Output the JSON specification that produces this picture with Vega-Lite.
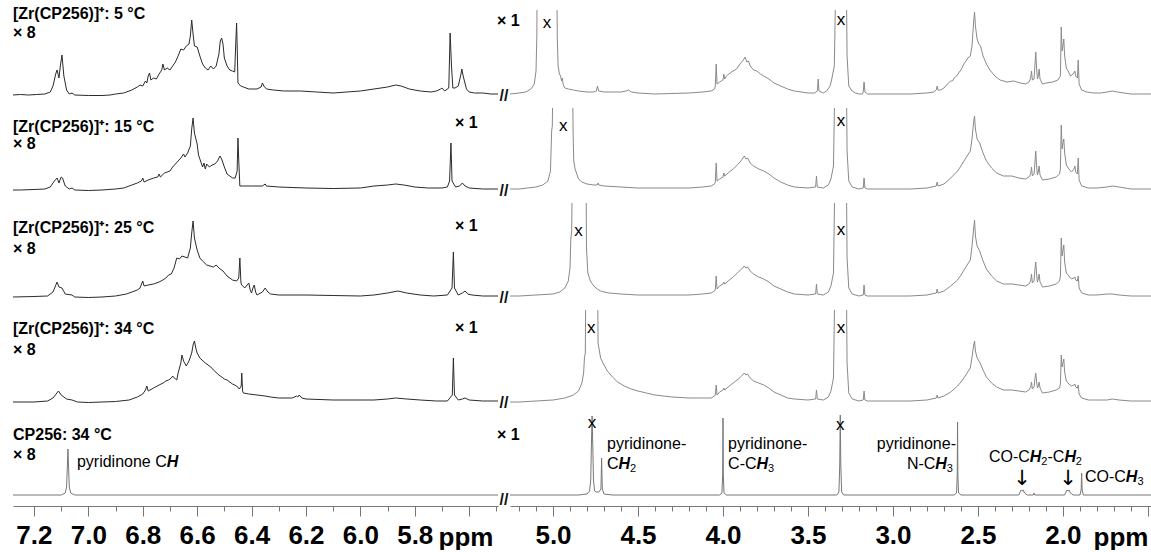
{
"$schema":"https://vega.github.io/schema/vega-lite/v6.json",
"padding":{"left":13,"top":6,"right":0,"bottom":0},
"config":{"view":{"stroke":null},"font":"Liberation Sans"},
"datasets":{
"L1":[{"p":7.277,"v":1},{"p":7.25,"v":1.5},{"p":7.22,"v":1},{"p":7.19,"v":1.5},{"p":7.16,"v":2},{"p":7.14,"v":4},{"p":7.13,"v":10},{"p":7.12,"v":22},{"p":7.115,"v":26},{"p":7.108,"v":18},{"p":7.103,"v":30},{"p":7.097,"v":41},{"p":7.09,"v":20},{"p":7.08,"v":6},{"p":7.07,"v":2},{"p":7.06,"v":3},{"p":7.05,"v":1},{"p":7.0,"v":0.5},{"p":6.95,"v":0.5},{"p":6.92,"v":1},{"p":6.9,"v":2},{"p":6.87,"v":3},{"p":6.84,"v":6},{"p":6.82,"v":9},{"p":6.81,"v":11},{"p":6.8,"v":10},{"p":6.79,"v":15},{"p":6.785,"v":13},{"p":6.78,"v":20},{"p":6.775,"v":23},{"p":6.77,"v":16},{"p":6.76,"v":18},{"p":6.75,"v":17},{"p":6.74,"v":22},{"p":6.73,"v":26},{"p":6.726,"v":32},{"p":6.72,"v":26},{"p":6.71,"v":28},{"p":6.7,"v":26},{"p":6.69,"v":30},{"p":6.68,"v":34},{"p":6.67,"v":40},{"p":6.66,"v":47},{"p":6.65,"v":46},{"p":6.64,"v":50},{"p":6.63,"v":52},{"p":6.625,"v":60},{"p":6.62,"v":76},{"p":6.615,"v":62},{"p":6.61,"v":50},{"p":6.6,"v":49},{"p":6.59,"v":40},{"p":6.58,"v":32},{"p":6.57,"v":28},{"p":6.56,"v":26},{"p":6.55,"v":30},{"p":6.54,"v":27},{"p":6.53,"v":30},{"p":6.52,"v":42},{"p":6.515,"v":55},{"p":6.51,"v":58},{"p":6.505,"v":52},{"p":6.5,"v":38},{"p":6.49,"v":30},{"p":6.48,"v":26},{"p":6.47,"v":25},{"p":6.462,"v":24},{"p":6.457,"v":60},{"p":6.455,"v":73},{"p":6.452,"v":40},{"p":6.45,"v":13},{"p":6.44,"v":10},{"p":6.43,"v":9},{"p":6.41,"v":7},{"p":6.38,"v":7},{"p":6.365,"v":9},{"p":6.36,"v":13},{"p":6.355,"v":10},{"p":6.345,"v":7},{"p":6.32,"v":6},{"p":6.28,"v":5},{"p":6.22,"v":5},{"p":6.16,"v":4},{"p":6.1,"v":3},{"p":6.05,"v":4},{"p":6.0,"v":5},{"p":5.95,"v":7},{"p":5.9,"v":9},{"p":5.87,"v":11},{"p":5.85,"v":10},{"p":5.82,"v":7},{"p":5.78,"v":5},{"p":5.74,"v":4},{"p":5.72,"v":5},{"p":5.705,"v":7},{"p":5.7,"v":8},{"p":5.69,"v":5},{"p":5.675,"v":8},{"p":5.67,"v":63},{"p":5.665,"v":30},{"p":5.66,"v":8},{"p":5.652,"v":8},{"p":5.64,"v":10},{"p":5.63,"v":22},{"p":5.627,"v":27},{"p":5.622,"v":20},{"p":5.61,"v":7},{"p":5.6,"v":4},{"p":5.58,"v":3},{"p":5.55,"v":3},{"p":5.52,"v":2},{"p":5.494,"v":2}],
"L2":[{"p":7.277,"v":1},{"p":7.25,"v":1},{"p":7.2,"v":1.5},{"p":7.16,"v":2},{"p":7.14,"v":4},{"p":7.125,"v":10},{"p":7.115,"v":13},{"p":7.108,"v":8},{"p":7.1,"v":14},{"p":7.095,"v":13},{"p":7.085,"v":5},{"p":7.07,"v":2},{"p":7.06,"v":3},{"p":7.05,"v":1},{"p":7.0,"v":0.5},{"p":6.95,"v":1},{"p":6.9,"v":2},{"p":6.87,"v":3},{"p":6.84,"v":6},{"p":6.82,"v":8},{"p":6.805,"v":10},{"p":6.8,"v":13},{"p":6.795,"v":9},{"p":6.78,"v":11},{"p":6.76,"v":13},{"p":6.745,"v":14},{"p":6.74,"v":17},{"p":6.735,"v":14},{"p":6.72,"v":18},{"p":6.7,"v":20},{"p":6.69,"v":24},{"p":6.68,"v":27},{"p":6.67,"v":30},{"p":6.66,"v":33},{"p":6.65,"v":37},{"p":6.645,"v":34},{"p":6.635,"v":38},{"p":6.625,"v":45},{"p":6.62,"v":62},{"p":6.615,"v":73},{"p":6.61,"v":58},{"p":6.6,"v":47},{"p":6.595,"v":36},{"p":6.59,"v":32},{"p":6.58,"v":24},{"p":6.575,"v":28},{"p":6.57,"v":22},{"p":6.565,"v":27},{"p":6.555,"v":24},{"p":6.545,"v":26},{"p":6.535,"v":27},{"p":6.525,"v":30},{"p":6.516,"v":35},{"p":6.51,"v":32},{"p":6.5,"v":24},{"p":6.49,"v":17},{"p":6.47,"v":13},{"p":6.46,"v":13},{"p":6.453,"v":20},{"p":6.45,"v":53},{"p":6.447,"v":30},{"p":6.443,"v":5},{"p":6.43,"v":5},{"p":6.4,"v":5},{"p":6.36,"v":5},{"p":6.35,"v":7},{"p":6.345,"v":5},{"p":6.3,"v":4},{"p":6.2,"v":3},{"p":6.1,"v":2.5},{"p":6.0,"v":3},{"p":5.95,"v":5},{"p":5.9,"v":6},{"p":5.87,"v":7},{"p":5.84,"v":6},{"p":5.8,"v":4},{"p":5.75,"v":3},{"p":5.7,"v":3},{"p":5.68,"v":4},{"p":5.672,"v":10},{"p":5.667,"v":48},{"p":5.663,"v":10},{"p":5.65,"v":4},{"p":5.635,"v":5},{"p":5.625,"v":8},{"p":5.615,"v":5},{"p":5.6,"v":3},{"p":5.55,"v":2},{"p":5.494,"v":2}],
"L3":[{"p":7.277,"v":1},{"p":7.2,"v":1.5},{"p":7.15,"v":2},{"p":7.13,"v":6},{"p":7.115,"v":16},{"p":7.108,"v":11},{"p":7.097,"v":10},{"p":7.085,"v":4},{"p":7.06,"v":3},{"p":7.05,"v":1},{"p":7.0,"v":0.5},{"p":6.95,"v":1},{"p":6.9,"v":2},{"p":6.86,"v":4},{"p":6.82,"v":8},{"p":6.81,"v":10},{"p":6.8,"v":17},{"p":6.795,"v":12},{"p":6.78,"v":13},{"p":6.76,"v":14},{"p":6.74,"v":16},{"p":6.726,"v":18},{"p":6.715,"v":20},{"p":6.705,"v":23},{"p":6.695,"v":24},{"p":6.685,"v":30},{"p":6.675,"v":40},{"p":6.665,"v":39},{"p":6.656,"v":42},{"p":6.645,"v":41},{"p":6.635,"v":40},{"p":6.625,"v":50},{"p":6.62,"v":65},{"p":6.615,"v":77},{"p":6.61,"v":60},{"p":6.6,"v":48},{"p":6.59,"v":40},{"p":6.58,"v":37},{"p":6.565,"v":33},{"p":6.553,"v":32},{"p":6.54,"v":31},{"p":6.53,"v":33},{"p":6.52,"v":30},{"p":6.505,"v":27},{"p":6.49,"v":22},{"p":6.47,"v":18},{"p":6.455,"v":17},{"p":6.447,"v":20},{"p":6.443,"v":40},{"p":6.439,"v":15},{"p":6.436,"v":13},{"p":6.425,"v":10},{"p":6.41,"v":15},{"p":6.405,"v":8},{"p":6.4,"v":5},{"p":6.395,"v":10},{"p":6.39,"v":13},{"p":6.385,"v":6},{"p":6.38,"v":3},{"p":6.36,"v":6},{"p":6.35,"v":10},{"p":6.34,"v":6},{"p":6.33,"v":4},{"p":6.3,"v":3},{"p":6.2,"v":3},{"p":6.1,"v":2.5},{"p":6.0,"v":2},{"p":5.95,"v":3},{"p":5.9,"v":5},{"p":5.862,"v":7},{"p":5.83,"v":5},{"p":5.78,"v":3},{"p":5.73,"v":2},{"p":5.68,"v":3},{"p":5.663,"v":10},{"p":5.658,"v":46},{"p":5.654,"v":10},{"p":5.64,"v":3},{"p":5.625,"v":5},{"p":5.615,"v":7},{"p":5.605,"v":4},{"p":5.59,"v":3},{"p":5.55,"v":2},{"p":5.494,"v":2}],
"L4":[{"p":7.277,"v":1},{"p":7.2,"v":1},{"p":7.15,"v":2},{"p":7.13,"v":5},{"p":7.11,"v":12},{"p":7.1,"v":8},{"p":7.09,"v":6},{"p":7.08,"v":4},{"p":7.06,"v":3},{"p":7.04,"v":1},{"p":7.0,"v":0.5},{"p":6.95,"v":1},{"p":6.9,"v":1.5},{"p":6.85,"v":3},{"p":6.82,"v":6},{"p":6.8,"v":9},{"p":6.79,"v":13},{"p":6.785,"v":17},{"p":6.78,"v":12},{"p":6.76,"v":15},{"p":6.74,"v":18},{"p":6.725,"v":20},{"p":6.715,"v":22},{"p":6.705,"v":23},{"p":6.695,"v":25},{"p":6.69,"v":27},{"p":6.68,"v":24},{"p":6.675,"v":23},{"p":6.67,"v":30},{"p":6.66,"v":40},{"p":6.656,"v":48},{"p":6.65,"v":42},{"p":6.64,"v":37},{"p":6.63,"v":42},{"p":6.62,"v":50},{"p":6.615,"v":58},{"p":6.61,"v":62},{"p":6.605,"v":55},{"p":6.6,"v":50},{"p":6.59,"v":45},{"p":6.57,"v":40},{"p":6.55,"v":36},{"p":6.54,"v":33},{"p":6.52,"v":28},{"p":6.5,"v":24},{"p":6.49,"v":23},{"p":6.47,"v":19},{"p":6.455,"v":17},{"p":6.445,"v":14},{"p":6.438,"v":17},{"p":6.436,"v":30},{"p":6.433,"v":12},{"p":6.43,"v":10},{"p":6.41,"v":9},{"p":6.38,"v":8},{"p":6.35,"v":7},{"p":6.33,"v":6},{"p":6.3,"v":5},{"p":6.25,"v":5},{"p":6.235,"v":7},{"p":6.23,"v":6},{"p":6.225,"v":8},{"p":6.215,"v":5},{"p":6.2,"v":4},{"p":6.1,"v":3},{"p":6.0,"v":3},{"p":5.95,"v":3},{"p":5.9,"v":4},{"p":5.87,"v":5},{"p":5.83,"v":4},{"p":5.78,"v":3},{"p":5.72,"v":2},{"p":5.68,"v":2},{"p":5.662,"v":8},{"p":5.658,"v":45},{"p":5.654,"v":8},{"p":5.64,"v":3},{"p":5.625,"v":4},{"p":5.615,"v":5},{"p":5.6,"v":3},{"p":5.55,"v":2},{"p":5.494,"v":2}],
"L5":[{"p":7.277,"v":0},{"p":7.1,"v":0},{"p":7.085,"v":2},{"p":7.08,"v":8},{"p":7.077,"v":30},{"p":7.075,"v":46},{"p":7.073,"v":30},{"p":7.07,"v":8},{"p":7.065,"v":2},{"p":7.05,"v":0},{"p":5.494,"v":0}],
"R1":[{"p":5.253,"v":2},{"p":5.2,"v":3},{"p":5.16,"v":4},{"p":5.13,"v":7},{"p":5.11,"v":12},{"p":5.1,"v":25},{"p":5.095,"v":60},{"p":5.093,"v":130},{"p":5.035,"v":140},{"p":4.978,"v":130},{"p":4.975,"v":60},{"p":4.97,"v":30},{"p":4.962,"v":22},{"p":4.955,"v":20},{"p":4.95,"v":15},{"p":4.945,"v":18},{"p":4.94,"v":11},{"p":4.93,"v":8},{"p":4.91,"v":7},{"p":4.88,"v":6},{"p":4.85,"v":5},{"p":4.8,"v":4},{"p":4.76,"v":4},{"p":4.745,"v":5},{"p":4.738,"v":10},{"p":4.732,"v":5},{"p":4.7,"v":4},{"p":4.64,"v":4},{"p":4.6,"v":4},{"p":4.57,"v":5},{"p":4.555,"v":6},{"p":4.54,"v":4},{"p":4.5,"v":3},{"p":4.4,"v":2},{"p":4.3,"v":2.5},{"p":4.2,"v":3},{"p":4.12,"v":4},{"p":4.07,"v":5},{"p":4.05,"v":7},{"p":4.045,"v":10},{"p":4.04,"v":32},{"p":4.035,"v":12},{"p":4.02,"v":14},{"p":4.01,"v":15},{"p":4.0,"v":16},{"p":3.995,"v":22},{"p":3.99,"v":17},{"p":3.98,"v":20},{"p":3.95,"v":24},{"p":3.92,"v":27},{"p":3.9,"v":32},{"p":3.88,"v":36},{"p":3.87,"v":39},{"p":3.86,"v":34},{"p":3.85,"v":35},{"p":3.84,"v":30},{"p":3.82,"v":26},{"p":3.8,"v":25},{"p":3.78,"v":22},{"p":3.76,"v":20},{"p":3.73,"v":17},{"p":3.7,"v":13},{"p":3.66,"v":10},{"p":3.62,"v":7},{"p":3.58,"v":5},{"p":3.54,"v":4},{"p":3.5,"v":3},{"p":3.46,"v":3},{"p":3.445,"v":5},{"p":3.44,"v":17},{"p":3.435,"v":5},{"p":3.41,"v":3},{"p":3.39,"v":5},{"p":3.37,"v":10},{"p":3.36,"v":17},{"p":3.345,"v":30},{"p":3.335,"v":130},{"p":3.275,"v":130},{"p":3.27,"v":40},{"p":3.26,"v":10},{"p":3.24,"v":5},{"p":3.22,"v":3},{"p":3.2,"v":2},{"p":3.18,"v":2},{"p":3.175,"v":4},{"p":3.17,"v":14},{"p":3.165,"v":4},{"p":3.15,"v":2},{"p":3.0,"v":2},{"p":2.9,"v":2},{"p":2.8,"v":3},{"p":2.76,"v":4},{"p":2.745,"v":6},{"p":2.74,"v":10},{"p":2.735,"v":6},{"p":2.72,"v":6},{"p":2.7,"v":8},{"p":2.68,"v":12},{"p":2.66,"v":15},{"p":2.65,"v":15},{"p":2.64,"v":18},{"p":2.625,"v":20},{"p":2.61,"v":24},{"p":2.6,"v":26},{"p":2.58,"v":33},{"p":2.57,"v":35},{"p":2.56,"v":38},{"p":2.545,"v":40},{"p":2.535,"v":50},{"p":2.525,"v":75},{"p":2.52,"v":84},{"p":2.515,"v":70},{"p":2.505,"v":57},{"p":2.495,"v":52},{"p":2.485,"v":50},{"p":2.47,"v":40},{"p":2.45,"v":32},{"p":2.43,"v":26},{"p":2.4,"v":20},{"p":2.37,"v":16},{"p":2.33,"v":14},{"p":2.29,"v":15},{"p":2.25,"v":13},{"p":2.22,"v":12},{"p":2.2,"v":14},{"p":2.19,"v":18},{"p":2.185,"v":25},{"p":2.18,"v":16},{"p":2.17,"v":17},{"p":2.165,"v":30},{"p":2.16,"v":44},{"p":2.155,"v":28},{"p":2.15,"v":17},{"p":2.145,"v":20},{"p":2.14,"v":27},{"p":2.135,"v":17},{"p":2.12,"v":12},{"p":2.1,"v":13},{"p":2.06,"v":14},{"p":2.03,"v":16},{"p":2.015,"v":20},{"p":2.01,"v":69},{"p":2.005,"v":45},{"p":2.0,"v":50},{"p":1.995,"v":57},{"p":1.99,"v":40},{"p":1.98,"v":28},{"p":1.97,"v":25},{"p":1.955,"v":20},{"p":1.94,"v":22},{"p":1.93,"v":25},{"p":1.925,"v":20},{"p":1.915,"v":18},{"p":1.91,"v":36},{"p":1.905,"v":12},{"p":1.89,"v":6},{"p":1.86,"v":4},{"p":1.82,"v":3},{"p":1.78,"v":3},{"p":1.74,"v":4},{"p":1.71,"v":5},{"p":1.68,"v":4},{"p":1.64,"v":3},{"p":1.6,"v":2},{"p":1.55,"v":2},{"p":1.482,"v":2}],
"R2":[{"p":5.253,"v":2},{"p":5.2,"v":2},{"p":5.15,"v":3},{"p":5.1,"v":4},{"p":5.06,"v":6},{"p":5.03,"v":10},{"p":5.015,"v":20},{"p":5.008,"v":60},{"p":5.004,"v":65},{"p":5.0,"v":130},{"p":4.94,"v":140},{"p":4.885,"v":130},{"p":4.882,"v":60},{"p":4.878,"v":30},{"p":4.87,"v":22},{"p":4.86,"v":17},{"p":4.85,"v":12},{"p":4.83,"v":9},{"p":4.8,"v":7},{"p":4.76,"v":6},{"p":4.74,"v":6},{"p":4.735,"v":8},{"p":4.73,"v":6},{"p":4.7,"v":5},{"p":4.6,"v":4},{"p":4.5,"v":3},{"p":4.4,"v":3},{"p":4.3,"v":3},{"p":4.2,"v":3},{"p":4.12,"v":4},{"p":4.07,"v":5},{"p":4.05,"v":7},{"p":4.045,"v":9},{"p":4.04,"v":28},{"p":4.035,"v":10},{"p":4.02,"v":12},{"p":4.0,"v":14},{"p":3.995,"v":18},{"p":3.99,"v":15},{"p":3.97,"v":18},{"p":3.94,"v":22},{"p":3.91,"v":27},{"p":3.89,"v":31},{"p":3.875,"v":35},{"p":3.865,"v":32},{"p":3.855,"v":33},{"p":3.84,"v":28},{"p":3.82,"v":25},{"p":3.79,"v":22},{"p":3.76,"v":20},{"p":3.73,"v":17},{"p":3.7,"v":13},{"p":3.66,"v":9},{"p":3.62,"v":6},{"p":3.58,"v":4},{"p":3.5,"v":3},{"p":3.455,"v":4},{"p":3.45,"v":15},{"p":3.445,"v":4},{"p":3.41,"v":3},{"p":3.38,"v":6},{"p":3.365,"v":12},{"p":3.35,"v":25},{"p":3.34,"v":130},{"p":3.275,"v":130},{"p":3.27,"v":40},{"p":3.26,"v":10},{"p":3.24,"v":4},{"p":3.2,"v":2},{"p":3.175,"v":3},{"p":3.17,"v":13},{"p":3.165,"v":3},{"p":3.15,"v":2},{"p":3.0,"v":2},{"p":2.9,"v":2},{"p":2.8,"v":3},{"p":2.745,"v":5},{"p":2.74,"v":9},{"p":2.735,"v":5},{"p":2.7,"v":7},{"p":2.66,"v":13},{"p":2.62,"v":20},{"p":2.6,"v":25},{"p":2.575,"v":32},{"p":2.56,"v":36},{"p":2.545,"v":40},{"p":2.535,"v":52},{"p":2.525,"v":70},{"p":2.52,"v":75},{"p":2.515,"v":62},{"p":2.505,"v":52},{"p":2.49,"v":48},{"p":2.47,"v":38},{"p":2.45,"v":30},{"p":2.42,"v":23},{"p":2.39,"v":18},{"p":2.35,"v":15},{"p":2.3,"v":15},{"p":2.26,"v":13},{"p":2.22,"v":12},{"p":2.2,"v":14},{"p":2.19,"v":17},{"p":2.185,"v":24},{"p":2.18,"v":15},{"p":2.17,"v":17},{"p":2.165,"v":28},{"p":2.16,"v":40},{"p":2.155,"v":25},{"p":2.15,"v":16},{"p":2.145,"v":19},{"p":2.14,"v":25},{"p":2.135,"v":16},{"p":2.12,"v":11},{"p":2.08,"v":12},{"p":2.04,"v":14},{"p":2.02,"v":17},{"p":2.015,"v":22},{"p":2.01,"v":66},{"p":2.005,"v":42},{"p":2.0,"v":48},{"p":1.995,"v":52},{"p":1.99,"v":38},{"p":1.98,"v":26},{"p":1.965,"v":22},{"p":1.95,"v":19},{"p":1.935,"v":22},{"p":1.93,"v":25},{"p":1.925,"v":19},{"p":1.915,"v":17},{"p":1.91,"v":33},{"p":1.905,"v":11},{"p":1.89,"v":5},{"p":1.85,"v":3},{"p":1.8,"v":3},{"p":1.74,"v":4},{"p":1.71,"v":5},{"p":1.67,"v":4},{"p":1.6,"v":2},{"p":1.482,"v":2}],
"R3":[{"p":5.253,"v":2},{"p":5.2,"v":2},{"p":5.1,"v":3},{"p":5.0,"v":4},{"p":4.96,"v":6},{"p":4.93,"v":10},{"p":4.91,"v":17},{"p":4.9,"v":30},{"p":4.895,"v":60},{"p":4.89,"v":67},{"p":4.886,"v":140},{"p":4.85,"v":150},{"p":4.806,"v":140},{"p":4.803,"v":50},{"p":4.795,"v":25},{"p":4.78,"v":17},{"p":4.76,"v":12},{"p":4.74,"v":9},{"p":4.72,"v":7},{"p":4.7,"v":6},{"p":4.67,"v":5},{"p":4.6,"v":4},{"p":4.5,"v":3},{"p":4.4,"v":3},{"p":4.3,"v":3},{"p":4.2,"v":3},{"p":4.12,"v":4},{"p":4.07,"v":5},{"p":4.05,"v":7},{"p":4.045,"v":9},{"p":4.04,"v":22},{"p":4.035,"v":9},{"p":4.02,"v":12},{"p":4.0,"v":14},{"p":3.995,"v":16},{"p":3.99,"v":14},{"p":3.97,"v":17},{"p":3.94,"v":21},{"p":3.91,"v":26},{"p":3.89,"v":29},{"p":3.875,"v":32},{"p":3.865,"v":30},{"p":3.855,"v":31},{"p":3.84,"v":27},{"p":3.82,"v":24},{"p":3.79,"v":21},{"p":3.76,"v":19},{"p":3.73,"v":16},{"p":3.7,"v":12},{"p":3.66,"v":9},{"p":3.62,"v":6},{"p":3.58,"v":4},{"p":3.5,"v":3},{"p":3.455,"v":4},{"p":3.45,"v":14},{"p":3.445,"v":4},{"p":3.41,"v":3},{"p":3.38,"v":6},{"p":3.365,"v":12},{"p":3.35,"v":25},{"p":3.34,"v":140},{"p":3.275,"v":140},{"p":3.27,"v":40},{"p":3.26,"v":10},{"p":3.24,"v":4},{"p":3.2,"v":2},{"p":3.175,"v":3},{"p":3.17,"v":13},{"p":3.165,"v":3},{"p":3.15,"v":2},{"p":3.0,"v":2},{"p":2.9,"v":2},{"p":2.8,"v":3},{"p":2.745,"v":5},{"p":2.74,"v":9},{"p":2.735,"v":5},{"p":2.7,"v":7},{"p":2.66,"v":12},{"p":2.62,"v":18},{"p":2.6,"v":23},{"p":2.575,"v":30},{"p":2.56,"v":34},{"p":2.545,"v":38},{"p":2.535,"v":52},{"p":2.525,"v":70},{"p":2.52,"v":78},{"p":2.515,"v":62},{"p":2.505,"v":52},{"p":2.49,"v":47},{"p":2.47,"v":37},{"p":2.45,"v":29},{"p":2.42,"v":22},{"p":2.39,"v":17},{"p":2.35,"v":14},{"p":2.3,"v":14},{"p":2.26,"v":13},{"p":2.22,"v":12},{"p":2.2,"v":14},{"p":2.19,"v":17},{"p":2.185,"v":24},{"p":2.18,"v":15},{"p":2.17,"v":17},{"p":2.165,"v":28},{"p":2.16,"v":36},{"p":2.155,"v":24},{"p":2.15,"v":16},{"p":2.145,"v":19},{"p":2.14,"v":24},{"p":2.135,"v":16},{"p":2.12,"v":11},{"p":2.08,"v":12},{"p":2.04,"v":14},{"p":2.02,"v":17},{"p":2.015,"v":22},{"p":2.01,"v":60},{"p":2.005,"v":42},{"p":2.0,"v":48},{"p":1.995,"v":53},{"p":1.99,"v":36},{"p":1.98,"v":25},{"p":1.965,"v":22},{"p":1.95,"v":19},{"p":1.935,"v":20},{"p":1.93,"v":21},{"p":1.925,"v":18},{"p":1.915,"v":17},{"p":1.91,"v":22},{"p":1.905,"v":10},{"p":1.89,"v":5},{"p":1.85,"v":3},{"p":1.8,"v":3},{"p":1.74,"v":4},{"p":1.71,"v":4},{"p":1.67,"v":3},{"p":1.6,"v":2},{"p":1.482,"v":2}],
"R4":[{"p":5.253,"v":1},{"p":5.2,"v":1},{"p":5.1,"v":2},{"p":5.0,"v":3},{"p":4.93,"v":5},{"p":4.88,"v":8},{"p":4.85,"v":12},{"p":4.83,"v":20},{"p":4.82,"v":30},{"p":4.815,"v":45},{"p":4.81,"v":50},{"p":4.806,"v":140},{"p":4.775,"v":150},{"p":4.738,"v":140},{"p":4.735,"v":60},{"p":4.72,"v":45},{"p":4.7,"v":38},{"p":4.68,"v":32},{"p":4.65,"v":26},{"p":4.62,"v":21},{"p":4.58,"v":17},{"p":4.54,"v":14},{"p":4.5,"v":12},{"p":4.45,"v":10},{"p":4.4,"v":8},{"p":4.3,"v":6},{"p":4.2,"v":5},{"p":4.12,"v":5},{"p":4.07,"v":5},{"p":4.05,"v":7},{"p":4.045,"v":8},{"p":4.04,"v":18},{"p":4.035,"v":8},{"p":4.02,"v":11},{"p":4.0,"v":13},{"p":3.995,"v":15},{"p":3.99,"v":13},{"p":3.97,"v":16},{"p":3.94,"v":20},{"p":3.91,"v":24},{"p":3.89,"v":27},{"p":3.875,"v":30},{"p":3.865,"v":28},{"p":3.855,"v":29},{"p":3.84,"v":25},{"p":3.82,"v":22},{"p":3.79,"v":20},{"p":3.76,"v":18},{"p":3.73,"v":15},{"p":3.7,"v":11},{"p":3.66,"v":8},{"p":3.62,"v":5},{"p":3.58,"v":4},{"p":3.5,"v":3},{"p":3.455,"v":4},{"p":3.45,"v":13},{"p":3.445,"v":4},{"p":3.41,"v":3},{"p":3.38,"v":6},{"p":3.365,"v":12},{"p":3.35,"v":25},{"p":3.34,"v":140},{"p":3.275,"v":140},{"p":3.27,"v":40},{"p":3.26,"v":10},{"p":3.24,"v":4},{"p":3.2,"v":2},{"p":3.175,"v":3},{"p":3.17,"v":12},{"p":3.165,"v":3},{"p":3.15,"v":2},{"p":3.0,"v":2},{"p":2.9,"v":2},{"p":2.8,"v":3},{"p":2.745,"v":5},{"p":2.74,"v":8},{"p":2.735,"v":5},{"p":2.7,"v":7},{"p":2.66,"v":11},{"p":2.62,"v":17},{"p":2.6,"v":21},{"p":2.575,"v":27},{"p":2.56,"v":31},{"p":2.545,"v":35},{"p":2.535,"v":46},{"p":2.525,"v":58},{"p":2.52,"v":62},{"p":2.515,"v":52},{"p":2.505,"v":45},{"p":2.49,"v":41},{"p":2.47,"v":33},{"p":2.45,"v":26},{"p":2.42,"v":20},{"p":2.39,"v":16},{"p":2.35,"v":13},{"p":2.3,"v":13},{"p":2.26,"v":12},{"p":2.22,"v":11},{"p":2.2,"v":13},{"p":2.19,"v":16},{"p":2.185,"v":21},{"p":2.18,"v":14},{"p":2.17,"v":16},{"p":2.165,"v":24},{"p":2.16,"v":30},{"p":2.155,"v":21},{"p":2.15,"v":15},{"p":2.145,"v":17},{"p":2.14,"v":21},{"p":2.135,"v":15},{"p":2.12,"v":10},{"p":2.08,"v":11},{"p":2.04,"v":13},{"p":2.02,"v":15},{"p":2.015,"v":19},{"p":2.01,"v":48},{"p":2.005,"v":36},{"p":2.0,"v":40},{"p":1.995,"v":44},{"p":1.99,"v":31},{"p":1.98,"v":22},{"p":1.965,"v":19},{"p":1.95,"v":17},{"p":1.935,"v":18},{"p":1.93,"v":19},{"p":1.925,"v":16},{"p":1.915,"v":15},{"p":1.91,"v":18},{"p":1.905,"v":9},{"p":1.89,"v":5},{"p":1.85,"v":3},{"p":1.8,"v":3},{"p":1.74,"v":3},{"p":1.71,"v":4},{"p":1.67,"v":3},{"p":1.6,"v":2},{"p":1.482,"v":2}],
"R5":[{"p":5.253,"v":0},{"p":4.85,"v":0},{"p":4.8,"v":1},{"p":4.785,"v":4},{"p":4.778,"v":15},{"p":4.774,"v":50},{"p":4.77,"v":79},{"p":4.766,"v":50},{"p":4.762,"v":15},{"p":4.755,"v":4},{"p":4.745,"v":3},{"p":4.73,"v":3},{"p":4.718,"v":6},{"p":4.714,"v":37},{"p":4.71,"v":6},{"p":4.7,"v":1},{"p":4.65,"v":0},{"p":4.02,"v":0},{"p":4.006,"v":2},{"p":4.002,"v":20},{"p":4.0,"v":77},{"p":3.998,"v":20},{"p":3.994,"v":2},{"p":3.98,"v":0},{"p":3.33,"v":0},{"p":3.318,"v":3},{"p":3.313,"v":30},{"p":3.31,"v":82},{"p":3.307,"v":30},{"p":3.302,"v":3},{"p":3.29,"v":0},{"p":2.64,"v":0},{"p":2.626,"v":2},{"p":2.622,"v":20},{"p":2.62,"v":73},{"p":2.618,"v":20},{"p":2.614,"v":2},{"p":2.6,"v":0},{"p":2.26,"v":0},{"p":2.252,"v":3},{"p":2.246,"v":5},{"p":2.24,"v":4},{"p":2.234,"v":5},{"p":2.226,"v":2},{"p":2.21,"v":0},{"p":2.175,"v":0},{"p":2.17,"v":2},{"p":2.165,"v":0},{"p":1.99,"v":0},{"p":1.982,"v":3},{"p":1.976,"v":5},{"p":1.97,"v":4},{"p":1.964,"v":5},{"p":1.956,"v":2},{"p":1.94,"v":0},{"p":1.9,"v":0},{"p":1.893,"v":5},{"p":1.89,"v":22},{"p":1.887,"v":5},{"p":1.88,"v":0},{"p":1.482,"v":0}],
"tb":[{"r":1,"s":"L","p":7.277,"v":82,"t":"[Zr(CP256)]⁺: 5 °C"},{"r":1,"s":"L","p":7.277,"v":63,"t":"× 8"},{"r":1,"s":"R","p":5.33,"v":75,"t":"× 1"},{"r":2,"s":"L","p":7.277,"v":64,"t":"[Zr(CP256)]⁺: 15 °C"},{"r":2,"s":"L","p":7.277,"v":47,"t":"× 8"},{"r":2,"s":"L","p":5.652,"v":68,"t":"× 1"},{"r":3,"s":"L","p":7.277,"v":70,"t":"[Zr(CP256)]⁺: 25 °C"},{"r":3,"s":"L","p":7.277,"v":49,"t":"× 8"},{"r":3,"s":"L","p":5.652,"v":72,"t":"× 1"},{"r":4,"s":"L","p":7.277,"v":74,"t":"[Zr(CP256)]⁺: 34 °C"},{"r":4,"s":"L","p":7.277,"v":53,"t":"× 8"},{"r":4,"s":"L","p":5.652,"v":75,"t":"× 1"},{"r":5,"s":"L","p":7.277,"v":60,"t":"CP256: 34 °C"},{"r":5,"s":"L","p":7.277,"v":40,"t":"× 8"},{"r":5,"s":"R","p":5.33,"v":60,"t":"× 1"}],
"tx":[{"r":1,"p":5.035,"v":73,"t":"x"},{"r":1,"p":3.305,"v":76,"t":"x"},{"r":2,"p":4.94,"v":65,"t":"x"},{"r":2,"p":3.305,"v":70,"t":"x"},{"r":3,"p":4.85,"v":67,"t":"x"},{"r":3,"p":3.305,"v":68,"t":"x"},{"r":4,"p":4.775,"v":75,"t":"x"},{"r":4,"p":3.305,"v":75,"t":"x"},{"r":5,"p":4.77,"v":72,"t":"x"},{"r":5,"p":3.31,"v":70,"t":"x"}],
"tbr":[{"r":1,"p":5.288,"v":0,"t":"//"},{"r":2,"p":5.288,"v":0,"t":"//"},{"r":3,"p":5.288,"v":0,"t":"//"},{"r":4,"p":5.288,"v":0,"t":"//"},{"r":5,"p":5.288,"v":-5,"t":"//"}],
"ta":[{"s":"L","p":7.042,"v":33,"t":"pyridinone C"},{"s":"R","p":4.682,"v":51,"t":"pyridinone-"},{"s":"R","p":4.682,"v":31,"t":"C"},{"s":"R","p":3.97,"v":51,"t":"pyridinone-"},{"s":"R","p":3.97,"v":31,"t":"C-C"},{"s":"R","p":3.095,"v":51,"t":"pyridinone-"},{"s":"R","p":2.918,"v":31,"t":"N-C"},{"s":"R","p":2.435,"v":38,"t":"CO-C"},{"s":"R","p":2.091,"v":38,"t":"-C"},{"s":"R","p":1.871,"v":18,"t":"CO-C"}],
"tbi":[{"s":"L","p":6.712,"v":33,"t":"H"},{"s":"R","p":4.615,"v":31,"t":"H"},{"s":"R","p":3.803,"v":31,"t":"H"},{"s":"R","p":2.751,"v":31,"t":"H"},{"s":"R","p":2.195,"v":38,"t":"H"},{"s":"R","p":1.991,"v":38,"t":"H"},{"s":"R","p":1.63,"v":18,"t":"H"}],
"tsub":[{"p":4.547,"v":26,"t":"2"},{"p":3.735,"v":26,"t":"3"},{"p":2.683,"v":26,"t":"3"},{"p":2.127,"v":33,"t":"2"},{"p":1.924,"v":33,"t":"2"},{"p":1.562,"v":13,"t":"3"}],
"tarr":[{"p":2.24,"v":16,"t":"↓"},{"p":1.97,"v":16,"t":"↓"}]
},
"bounds":"flush",
"align":"each",
"columns":2,
"spacing":{"row":9,"column":12},
"concat":[
 {"width":485,"height":89,
  "encoding":{"x":{"field":"p","type":"quantitative","scale":{"domain":[5.494,7.277],"reverse":true,"nice":false,"zero":false},"axis":null},
   "y":{"field":"v","type":"quantitative","scale":{"domain":[-3,86],"nice":false,"zero":false},"axis":null}},
  "layer":[
   {"data":{"name":"L1"},"mark":{"type":"line","clip":true,"color":"#2b2b2b","strokeWidth":1}},
   {"data":{"name":"tb"},"transform":[{"filter":"datum.r==1 && datum.s=='L'"}],"mark":{"type":"text","align":"left","baseline":"middle","fontSize":16,"fontWeight":"bold","color":"#000"},"encoding":{"text":{"field":"t"}}}
  ]},
 {"width":641,"height":89,
  "encoding":{"x":{"field":"p","type":"quantitative","scale":{"domain":[1.482,5.253],"reverse":true,"nice":false,"zero":false},"axis":null},
   "y":{"field":"v","type":"quantitative","scale":{"domain":[-3,86],"nice":false,"zero":false},"axis":null}},
  "layer":[
   {"data":{"name":"R1"},"mark":{"type":"line","clip":true,"color":"#8a8a8a","strokeWidth":1}},
   {"data":{"name":"tb"},"transform":[{"filter":"datum.r==1 && datum.s=='R'"}],"mark":{"type":"text","align":"left","baseline":"middle","fontSize":16,"fontWeight":"bold","color":"#000"},"encoding":{"text":{"field":"t"}}},
   {"data":{"name":"tx"},"transform":[{"filter":"datum.r==1"}],"mark":{"type":"text","align":"center","baseline":"middle","fontSize":17,"color":"#000"},"encoding":{"text":{"field":"t"}}},
   {"data":{"name":"tbr"},"transform":[{"filter":"datum.r==1"}],"mark":{"type":"text","align":"center","baseline":"middle","fontSize":16,"fontWeight":"bold","color":"#111"},"encoding":{"text":{"field":"t"}}}
  ]},
 {"width":485,"height":86,
  "encoding":{"x":{"field":"p","type":"quantitative","scale":{"domain":[5.494,7.277],"reverse":true,"nice":false,"zero":false},"axis":null},
   "y":{"field":"v","type":"quantitative","scale":{"domain":[-3,83],"nice":false,"zero":false},"axis":null}},
  "layer":[
   {"data":{"name":"L2"},"mark":{"type":"line","clip":true,"color":"#2b2b2b","strokeWidth":1}},
   {"data":{"name":"tb"},"transform":[{"filter":"datum.r==2 && datum.s=='L'"}],"mark":{"type":"text","align":"left","baseline":"middle","fontSize":16,"fontWeight":"bold","color":"#000"},"encoding":{"text":{"field":"t"}}}
  ]},
 {"width":641,"height":86,
  "encoding":{"x":{"field":"p","type":"quantitative","scale":{"domain":[1.482,5.253],"reverse":true,"nice":false,"zero":false},"axis":null},
   "y":{"field":"v","type":"quantitative","scale":{"domain":[-3,83],"nice":false,"zero":false},"axis":null}},
  "layer":[
   {"data":{"name":"R2"},"mark":{"type":"line","clip":true,"color":"#8a8a8a","strokeWidth":1}},
   {"data":{"name":"tx"},"transform":[{"filter":"datum.r==2"}],"mark":{"type":"text","align":"center","baseline":"middle","fontSize":17,"color":"#000"},"encoding":{"text":{"field":"t"}}},
   {"data":{"name":"tbr"},"transform":[{"filter":"datum.r==2"}],"mark":{"type":"text","align":"center","baseline":"middle","fontSize":16,"fontWeight":"bold","color":"#111"},"encoding":{"text":{"field":"t"}}}
  ]},
 {"width":485,"height":98,
  "encoding":{"x":{"field":"p","type":"quantitative","scale":{"domain":[5.494,7.277],"reverse":true,"nice":false,"zero":false},"axis":null},
   "y":{"field":"v","type":"quantitative","scale":{"domain":[-3,95],"nice":false,"zero":false},"axis":null}},
  "layer":[
   {"data":{"name":"L3"},"mark":{"type":"line","clip":true,"color":"#2b2b2b","strokeWidth":1}},
   {"data":{"name":"tb"},"transform":[{"filter":"datum.r==3 && datum.s=='L'"}],"mark":{"type":"text","align":"left","baseline":"middle","fontSize":16,"fontWeight":"bold","color":"#000"},"encoding":{"text":{"field":"t"}}}
  ]},
 {"width":641,"height":98,
  "encoding":{"x":{"field":"p","type":"quantitative","scale":{"domain":[1.482,5.253],"reverse":true,"nice":false,"zero":false},"axis":null},
   "y":{"field":"v","type":"quantitative","scale":{"domain":[-3,95],"nice":false,"zero":false},"axis":null}},
  "layer":[
   {"data":{"name":"R3"},"mark":{"type":"line","clip":true,"color":"#8a8a8a","strokeWidth":1}},
   {"data":{"name":"tx"},"transform":[{"filter":"datum.r==3"}],"mark":{"type":"text","align":"center","baseline":"middle","fontSize":17,"color":"#000"},"encoding":{"text":{"field":"t"}}},
   {"data":{"name":"tbr"},"transform":[{"filter":"datum.r==3"}],"mark":{"type":"text","align":"center","baseline":"middle","fontSize":16,"fontWeight":"bold","color":"#111"},"encoding":{"text":{"field":"t"}}}
  ]},
 {"width":485,"height":96,
  "encoding":{"x":{"field":"p","type":"quantitative","scale":{"domain":[5.494,7.277],"reverse":true,"nice":false,"zero":false},"axis":null},
   "y":{"field":"v","type":"quantitative","scale":{"domain":[-3,93],"nice":false,"zero":false},"axis":null}},
  "layer":[
   {"data":{"name":"L4"},"mark":{"type":"line","clip":true,"color":"#2b2b2b","strokeWidth":1}},
   {"data":{"name":"tb"},"transform":[{"filter":"datum.r==4 && datum.s=='L'"}],"mark":{"type":"text","align":"left","baseline":"middle","fontSize":16,"fontWeight":"bold","color":"#000"},"encoding":{"text":{"field":"t"}}}
  ]},
 {"width":641,"height":96,
  "encoding":{"x":{"field":"p","type":"quantitative","scale":{"domain":[1.482,5.253],"reverse":true,"nice":false,"zero":false},"axis":null},
   "y":{"field":"v","type":"quantitative","scale":{"domain":[-3,93],"nice":false,"zero":false},"axis":null}},
  "layer":[
   {"data":{"name":"R4"},"mark":{"type":"line","clip":true,"color":"#8a8a8a","strokeWidth":1}},
   {"data":{"name":"tx"},"transform":[{"filter":"datum.r==4"}],"mark":{"type":"text","align":"center","baseline":"middle","fontSize":17,"color":"#000"},"encoding":{"text":{"field":"t"}}},
   {"data":{"name":"tbr"},"transform":[{"filter":"datum.r==4"}],"mark":{"type":"text","align":"center","baseline":"middle","fontSize":16,"fontWeight":"bold","color":"#111"},"encoding":{"text":{"field":"t"}}}
  ]},
 {"width":485,"height":83,
  "encoding":{"x":{"field":"p","type":"quantitative","scale":{"domain":[5.494,7.277],"reverse":true,"nice":false,"zero":false},
    "axis":{"values":[5.5,5.6,5.7,5.8,5.9,6.0,6.1,6.2,6.3,6.4,6.5,6.6,6.7,6.8,6.9,7.0,7.1,7.2],
     "labelExpr":"(abs(datum.value*5-round(datum.value*5))<0.01 && datum.value>5.7) ? format(datum.value,'.1f') : ''",
     "tickSize":{"condition":{"test":"abs(datum.value*5-round(datum.value*5))<0.01","value":10},"value":5},
     "offset":8,"grid":false,"domainColor":"#777","tickColor":"#777","labelFontSize":26,"labelFontWeight":"bold","labelFont":"Liberation Sans","labelColor":"#000","labelPadding":6,"labelOverlap":false,"labelFlush":false,"labelBound":false,
     "title":"ppm","titleFontSize":26,"titleFontWeight":"bold","titleFont":"Liberation Sans","titleColor":"#000","titleAnchor":"end","titleAlign":"right","titleBaseline":"alphabetic","titleX":480,"titleY":39}},
   "y":{"field":"v","type":"quantitative","scale":{"domain":[-3,80],"nice":false,"zero":false},"axis":null}},
  "layer":[
   {"data":{"name":"L5"},"mark":{"type":"line","clip":true,"color":"#777","strokeWidth":1}},
   {"data":{"name":"tb"},"transform":[{"filter":"datum.r==5 && datum.s=='L'"}],"mark":{"type":"text","align":"left","baseline":"middle","fontSize":16,"fontWeight":"bold","color":"#000"},"encoding":{"text":{"field":"t"}}},
   {"data":{"name":"ta"},"transform":[{"filter":"datum.s=='L'"}],"mark":{"type":"text","align":"left","baseline":"middle","fontSize":16,"color":"#000"},"encoding":{"text":{"field":"t"}}},
   {"data":{"name":"tbi"},"transform":[{"filter":"datum.s=='L'"}],"mark":{"type":"text","align":"left","baseline":"middle","fontSize":16,"fontWeight":"bold","fontStyle":"italic","color":"#000"},"encoding":{"text":{"field":"t"}}}
  ]},
 {"width":641,"height":83,
  "encoding":{"x":{"field":"p","type":"quantitative","scale":{"domain":[1.482,5.253],"reverse":true,"nice":false,"zero":false},
    "axis":{"values":[1.5,1.6,1.7,1.8,1.9,2.0,2.1,2.2,2.3,2.4,2.5,2.6,2.7,2.8,2.9,3.0,3.1,3.2,3.3,3.4,3.5,3.6,3.7,3.8,3.9,4.0,4.1,4.2,4.3,4.4,4.5,4.6,4.7,4.8,4.9,5.0,5.1,5.2],
     "labelExpr":"(abs(datum.value*2-round(datum.value*2))<0.01 && datum.value>1.9) ? format(datum.value,'.1f') : ''",
     "tickSize":{"condition":{"test":"abs(datum.value*2-round(datum.value*2))<0.01","value":10},"value":5},
     "offset":8,"grid":false,"domainColor":"#777","tickColor":"#777","labelFontSize":26,"labelFontWeight":"bold","labelFont":"Liberation Sans","labelColor":"#000","labelPadding":6,"labelOverlap":false,"labelFlush":false,"labelBound":false,
     "title":"ppm","titleFontSize":26,"titleFontWeight":"bold","titleFont":"Liberation Sans","titleColor":"#000","titleAnchor":"end","titleAlign":"right","titleBaseline":"alphabetic","titleX":638,"titleY":39}},
   "y":{"field":"v","type":"quantitative","scale":{"domain":[-3,80],"nice":false,"zero":false},"axis":null}},
  "layer":[
   {"data":{"name":"R5"},"mark":{"type":"line","clip":true,"color":"#777","strokeWidth":1}},
   {"data":{"name":"tb"},"transform":[{"filter":"datum.r==5 && datum.s=='R'"}],"mark":{"type":"text","align":"left","baseline":"middle","fontSize":16,"fontWeight":"bold","color":"#000"},"encoding":{"text":{"field":"t"}}},
   {"data":{"name":"tx"},"transform":[{"filter":"datum.r==5"}],"mark":{"type":"text","align":"center","baseline":"middle","fontSize":17,"color":"#000"},"encoding":{"text":{"field":"t"}}},
   {"data":{"name":"tbr"},"transform":[{"filter":"datum.r==5"}],"mark":{"type":"text","align":"center","baseline":"middle","fontSize":16,"fontWeight":"bold","color":"#111"},"encoding":{"text":{"field":"t"}}},
   {"data":{"name":"ta"},"transform":[{"filter":"datum.s=='R'"}],"mark":{"type":"text","align":"left","baseline":"middle","fontSize":16,"color":"#000"},"encoding":{"text":{"field":"t"}}},
   {"data":{"name":"tbi"},"transform":[{"filter":"datum.s=='R'"}],"mark":{"type":"text","align":"left","baseline":"middle","fontSize":16,"fontWeight":"bold","fontStyle":"italic","color":"#000"},"encoding":{"text":{"field":"t"}}},
   {"data":{"name":"tsub"},"mark":{"type":"text","align":"left","baseline":"middle","fontSize":11,"color":"#000"},"encoding":{"text":{"field":"t"}}},
   {"data":{"name":"tarr"},"mark":{"type":"text","align":"center","baseline":"middle","fontSize":21,"font":"DejaVu Sans","fontWeight":"normal","color":"#000"},"encoding":{"text":{"field":"t"}}}
  ]}
]
}
